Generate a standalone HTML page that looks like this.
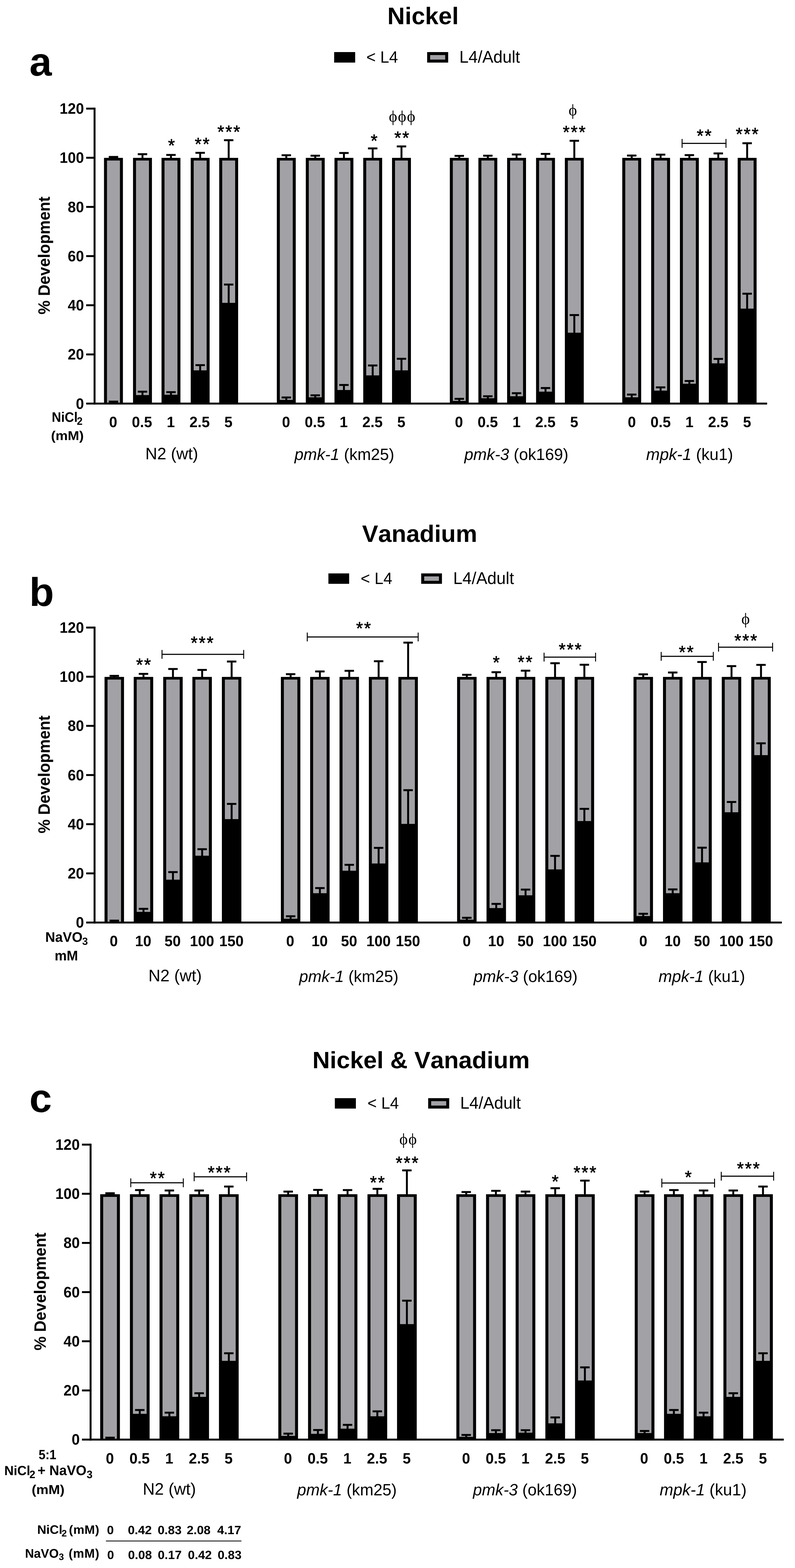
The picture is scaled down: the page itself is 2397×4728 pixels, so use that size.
<!DOCTYPE html>
<html lang="en"><head><meta charset="utf-8"><title>Development under nickel and vanadium exposure</title>
<style>html,body{margin:0;padding:0;background:#fff}svg{display:block}text{font-family:'Liberation Sans', Arial, Helvetica, sans-serif;fill:#000;font-kerning:none;white-space:pre}text.ph{font-family:'Liberation Serif', 'DejaVu Serif', serif}text.st{stroke:#000;stroke-width:1px}</style>
</head><body>
<svg width="2397" height="4728" viewBox="0 0 2397 4728" text-rendering="geometricPrecision">
<rect width="2397" height="4728" fill="#fff"/>
<g id="panel-a">
<text transform="translate(0 73.2) scale(1 0.994)" text-anchor="start"><tspan x="1168.12" y="0" font-size="72.92" font-weight="bold">Nickel</tspan></text>
<text transform="translate(88.7 228.3) scale(1 1)" font-size="121" font-weight="bold" text-anchor="start">a</text>
<rect x="1007.5" y="157" width="63.4" height="31.7"/>
<text transform="translate(0 188.5) scale(1 1.03)" text-anchor="start"><tspan x="1104.83" font-size="48.15">&lt; </tspan><tspan x="1146.45" font-size="48.15">L4</tspan></text>
<rect x="1287.9" y="157" width="63.4" height="31.7"/>
<rect x="1296.9" y="166" width="45.4" height="13.7" fill="#a2a1a5"/>
<text transform="translate(0 188.5) scale(1 1.03)" text-anchor="start"><tspan x="1384.91" y="0" font-size="49.89">L4/Adult</tspan></text>
<rect x="282.2" y="324.6" width="5.8" height="895.2"/>
<rect x="259.8" y="1214" width="2053.2" height="5.8"/>
<rect x="259.8" y="1065.8" width="25.3" height="5.8"/>
<rect x="259.8" y="917.5" width="25.3" height="5.8"/>
<rect x="259.8" y="769.3" width="25.3" height="5.8"/>
<rect x="259.8" y="621" width="25.3" height="5.8"/>
<rect x="259.8" y="472.8" width="25.3" height="5.8"/>
<rect x="259.8" y="324.6" width="25.3" height="5.8"/>
<text transform="translate(253.2 1232.5) scale(1 1.04)" font-size="44" font-weight="bold" text-anchor="end">0</text>
<text transform="translate(253.2 1084.3) scale(1 1.04)" font-size="44" font-weight="bold" text-anchor="end">20</text>
<text transform="translate(253.2 936) scale(1 1.04)" font-size="44" font-weight="bold" text-anchor="end">40</text>
<text transform="translate(253.2 787.8) scale(1 1.04)" font-size="44" font-weight="bold" text-anchor="end">60</text>
<text transform="translate(253.2 639.5) scale(1 1.04)" font-size="44" font-weight="bold" text-anchor="end">80</text>
<text transform="translate(253.2 491.3) scale(1 1.04)" font-size="44" font-weight="bold" text-anchor="end">100</text>
<text transform="translate(253.2 343.1) scale(1 1.04)" font-size="44" font-weight="bold" text-anchor="end">120</text>
<text transform="translate(150 770.4) rotate(-90) scale(1 1.04)" font-size="47.75" font-weight="bold" text-anchor="middle">% Development</text>
<rect x="313.6" y="476" width="57" height="740.9"/>
<rect x="322.6" y="484" width="39" height="730" fill="#a2a1a5"/>
<rect x="339.2" y="1211" width="5.8" height="4"/>
<rect x="327.9" y="1208.1" width="28.4" height="5.8"/>
<rect x="339.2" y="473.2" width="5.8" height="3.8"/>
<rect x="327.9" y="470.3" width="28.4" height="5.8"/>
<text transform="translate(341.3 1288.1) scale(1 1.03)" font-size="44" font-weight="bold" text-anchor="middle">0</text>
<rect x="401.1" y="476" width="57" height="740.9"/>
<rect x="410.1" y="484" width="39" height="707.3" fill="#a2a1a5"/>
<rect x="426.7" y="1181" width="5.8" height="11.3"/>
<rect x="415.4" y="1178.1" width="28.4" height="5.8"/>
<rect x="426.7" y="464.9" width="5.8" height="12.1"/>
<rect x="415.4" y="462" width="28.4" height="5.8"/>
<text transform="translate(428.2 1288.1) scale(1 1.03)" font-size="44" font-weight="bold" text-anchor="middle">0.5</text>
<rect x="487" y="476" width="57" height="740.9"/>
<rect x="496" y="484" width="39" height="706.2" fill="#a2a1a5"/>
<rect x="512.6" y="1182.4" width="5.8" height="8.8"/>
<rect x="501.3" y="1179.5" width="28.4" height="5.8"/>
<rect x="512.6" y="467.2" width="5.8" height="9.8"/>
<rect x="501.3" y="464.3" width="28.4" height="5.8"/>
<text transform="translate(515 1288.1) scale(1 1.03)" font-size="44" font-weight="bold" text-anchor="middle">1</text>
<rect x="575" y="476" width="57" height="740.9"/>
<rect x="584" y="484" width="39" height="632.7" fill="#a2a1a5"/>
<rect x="600.6" y="1101" width="5.8" height="16.7"/>
<rect x="589.3" y="1098.1" width="28.4" height="5.8"/>
<rect x="600.6" y="460.8" width="5.8" height="16.2"/>
<rect x="589.3" y="457.9" width="28.4" height="5.8"/>
<text transform="translate(601.9 1288.1) scale(1 1.03)" font-size="44" font-weight="bold" text-anchor="middle">2.5</text>
<rect x="661" y="476" width="57" height="740.9"/>
<rect x="670" y="484" width="39" height="429.2" fill="#a2a1a5"/>
<rect x="686.6" y="858" width="5.8" height="56.2"/>
<rect x="675.3" y="855.1" width="28.4" height="5.8"/>
<rect x="686.6" y="422.7" width="5.8" height="54.3"/>
<rect x="675.3" y="419.8" width="28.4" height="5.8"/>
<text transform="translate(688.8 1288.1) scale(1 1.03)" font-size="44" font-weight="bold" text-anchor="middle">5</text>
<text transform="translate(0 1385.3) scale(1 1.015)" text-anchor="start"><tspan x="438.25" y="0" font-size="49.41">N2 (wt)</tspan></text>
<rect x="834.7" y="476" width="57" height="740.9"/>
<rect x="843.7" y="484" width="39" height="721.8" fill="#a2a1a5"/>
<rect x="860.3" y="1198.5" width="5.8" height="8.3"/>
<rect x="849" y="1195.6" width="28.4" height="5.8"/>
<rect x="860.3" y="468.1" width="5.8" height="8.9"/>
<rect x="849" y="465.2" width="28.4" height="5.8"/>
<text transform="translate(862.5 1288.1) scale(1 1.03)" font-size="44" font-weight="bold" text-anchor="middle">0</text>
<rect x="922" y="476" width="57" height="740.9"/>
<rect x="931" y="484" width="39" height="714" fill="#a2a1a5"/>
<rect x="947.6" y="1192" width="5.8" height="7"/>
<rect x="936.3" y="1189.1" width="28.4" height="5.8"/>
<rect x="947.6" y="469.5" width="5.8" height="7.5"/>
<rect x="936.3" y="466.6" width="28.4" height="5.8"/>
<text transform="translate(949.4 1288.1) scale(1 1.03)" font-size="44" font-weight="bold" text-anchor="middle">0.5</text>
<rect x="1008.5" y="476" width="57" height="740.9"/>
<rect x="1017.5" y="484" width="39" height="692" fill="#a2a1a5"/>
<rect x="1034.1" y="1160.8" width="5.8" height="16.2"/>
<rect x="1022.8" y="1157.9" width="28.4" height="5.8"/>
<rect x="1034.1" y="461.3" width="5.8" height="15.7"/>
<rect x="1022.8" y="458.4" width="28.4" height="5.8"/>
<text transform="translate(1036.3 1288.1) scale(1 1.03)" font-size="44" font-weight="bold" text-anchor="middle">1</text>
<rect x="1095.2" y="476" width="57" height="740.9"/>
<rect x="1104.2" y="484" width="39" height="647.9" fill="#a2a1a5"/>
<rect x="1120.8" y="1102" width="5.8" height="30.9"/>
<rect x="1109.5" y="1099.1" width="28.4" height="5.8"/>
<rect x="1120.8" y="447.5" width="5.8" height="29.5"/>
<rect x="1109.5" y="444.6" width="28.4" height="5.8"/>
<text transform="translate(1123.1 1288.1) scale(1 1.03)" font-size="44" font-weight="bold" text-anchor="middle">2.5</text>
<rect x="1182" y="476" width="57" height="740.9"/>
<rect x="1191" y="484" width="39" height="632.7" fill="#a2a1a5"/>
<rect x="1207.6" y="1081.8" width="5.8" height="35.9"/>
<rect x="1196.3" y="1078.9" width="28.4" height="5.8"/>
<rect x="1207.6" y="441.5" width="5.8" height="35.5"/>
<rect x="1196.3" y="438.6" width="28.4" height="5.8"/>
<text transform="translate(1210 1288.1) scale(1 1.03)" font-size="44" font-weight="bold" text-anchor="middle">5</text>
<text transform="translate(0 1387.3) scale(1 1.015)" text-anchor="start"><tspan x="887.91" font-size="48.79" font-style="italic">pmk-1</tspan><tspan font-size="48.79"> (km25)</tspan></text>
<rect x="1356.3" y="476" width="57" height="740.9"/>
<rect x="1365.3" y="484" width="39" height="725" fill="#a2a1a5"/>
<rect x="1381.9" y="1202.6" width="5.8" height="7.4"/>
<rect x="1370.6" y="1199.7" width="28.4" height="5.8"/>
<rect x="1381.9" y="470" width="5.8" height="7"/>
<rect x="1370.6" y="467.1" width="28.4" height="5.8"/>
<text transform="translate(1383.7 1288.1) scale(1 1.03)" font-size="44" font-weight="bold" text-anchor="middle">0</text>
<rect x="1442.4" y="476" width="57" height="740.9"/>
<rect x="1451.4" y="484" width="39" height="716.8" fill="#a2a1a5"/>
<rect x="1468" y="1194.8" width="5.8" height="7"/>
<rect x="1456.7" y="1191.9" width="28.4" height="5.8"/>
<rect x="1468" y="469.5" width="5.8" height="7.5"/>
<rect x="1456.7" y="466.6" width="28.4" height="5.8"/>
<text transform="translate(1470.6 1288.1) scale(1 1.03)" font-size="44" font-weight="bold" text-anchor="middle">0.5</text>
<rect x="1529" y="476" width="57" height="740.9"/>
<rect x="1538" y="484" width="39" height="710.8" fill="#a2a1a5"/>
<rect x="1554.6" y="1185.6" width="5.8" height="10.2"/>
<rect x="1543.3" y="1182.7" width="28.4" height="5.8"/>
<rect x="1554.6" y="465.8" width="5.8" height="11.2"/>
<rect x="1543.3" y="462.9" width="28.4" height="5.8"/>
<text transform="translate(1557.5 1288.1) scale(1 1.03)" font-size="44" font-weight="bold" text-anchor="middle">1</text>
<rect x="1616.3" y="476" width="57" height="740.9"/>
<rect x="1625.3" y="484" width="39" height="697" fill="#a2a1a5"/>
<rect x="1641.9" y="1170" width="5.8" height="12"/>
<rect x="1630.6" y="1167.1" width="28.4" height="5.8"/>
<rect x="1641.9" y="464" width="5.8" height="13"/>
<rect x="1630.6" y="461.1" width="28.4" height="5.8"/>
<text transform="translate(1644.4 1288.1) scale(1 1.03)" font-size="44" font-weight="bold" text-anchor="middle">2.5</text>
<rect x="1703.1" y="476" width="57" height="740.9"/>
<rect x="1712.1" y="484" width="39" height="519.2" fill="#a2a1a5"/>
<rect x="1728.7" y="950" width="5.8" height="54.2"/>
<rect x="1717.4" y="947.1" width="28.4" height="5.8"/>
<rect x="1728.7" y="424.5" width="5.8" height="52.5"/>
<rect x="1717.4" y="421.6" width="28.4" height="5.8"/>
<text transform="translate(1731.2 1288.1) scale(1 1.03)" font-size="44" font-weight="bold" text-anchor="middle">5</text>
<text transform="translate(0 1387.3) scale(1 1.015)" text-anchor="start"><tspan x="1399.91" font-size="48.69" font-style="italic">pmk-3</tspan><tspan font-size="48.69"> (ok169)</tspan></text>
<rect x="1876.2" y="476" width="57" height="740.9"/>
<rect x="1885.2" y="484" width="39" height="714" fill="#a2a1a5"/>
<rect x="1901.8" y="1189.7" width="5.8" height="9.3"/>
<rect x="1890.5" y="1186.8" width="28.4" height="5.8"/>
<rect x="1901.8" y="469" width="5.8" height="8"/>
<rect x="1890.5" y="466.1" width="28.4" height="5.8"/>
<text transform="translate(1905 1288.1) scale(1 1.03)" font-size="44" font-weight="bold" text-anchor="middle">0</text>
<rect x="1963.3" y="476" width="57" height="740.9"/>
<rect x="1972.3" y="484" width="39" height="693.8" fill="#a2a1a5"/>
<rect x="1988.9" y="1168" width="5.8" height="10.8"/>
<rect x="1977.6" y="1165.1" width="28.4" height="5.8"/>
<rect x="1988.9" y="466.3" width="5.8" height="10.7"/>
<rect x="1977.6" y="463.4" width="28.4" height="5.8"/>
<text transform="translate(1991.8 1288.1) scale(1 1.03)" font-size="44" font-weight="bold" text-anchor="middle">0.5</text>
<rect x="2050" y="476" width="57" height="740.9"/>
<rect x="2059" y="484" width="39" height="673" fill="#a2a1a5"/>
<rect x="2075.6" y="1148.8" width="5.8" height="9.2"/>
<rect x="2064.3" y="1145.9" width="28.4" height="5.8"/>
<rect x="2075.6" y="467.7" width="5.8" height="9.3"/>
<rect x="2064.3" y="464.8" width="28.4" height="5.8"/>
<text transform="translate(2078.7 1288.1) scale(1 1.03)" font-size="44" font-weight="bold" text-anchor="middle">1</text>
<rect x="2137.2" y="476" width="57" height="740.9"/>
<rect x="2146.2" y="484" width="39" height="611.6" fill="#a2a1a5"/>
<rect x="2162.8" y="1082.2" width="5.8" height="14.4"/>
<rect x="2151.5" y="1079.3" width="28.4" height="5.8"/>
<rect x="2162.8" y="462.6" width="5.8" height="14.4"/>
<rect x="2151.5" y="459.7" width="28.4" height="5.8"/>
<text transform="translate(2165.6 1288.1) scale(1 1.03)" font-size="44" font-weight="bold" text-anchor="middle">2.5</text>
<rect x="2224.2" y="476" width="57" height="740.9"/>
<rect x="2233.2" y="484" width="39" height="446.6" fill="#a2a1a5"/>
<rect x="2249.8" y="885.6" width="5.8" height="46"/>
<rect x="2238.5" y="882.7" width="28.4" height="5.8"/>
<rect x="2249.8" y="431.9" width="5.8" height="45.1"/>
<rect x="2238.5" y="429" width="28.4" height="5.8"/>
<text transform="translate(2252.4 1288.1) scale(1 1.03)" font-size="44" font-weight="bold" text-anchor="middle">5</text>
<text transform="translate(0 1387.3) scale(1 1.015)" text-anchor="start"><tspan x="1948.28" font-size="49.13" font-style="italic">mpk-1</tspan><tspan font-size="49.13"> (ku1)</tspan></text>
<text transform="translate(506.7 456.9) scale(1 1.03)" font-size="52.6" text-anchor="start" class="st" letter-spacing="3.53">*</text>
<text transform="translate(587.2 453.3) scale(1 1.03)" font-size="52.6" text-anchor="start" class="st" letter-spacing="3.53">**</text>
<text transform="translate(655.4 415.6) scale(1 1.03)" font-size="52.6" text-anchor="start" class="st" letter-spacing="3.53">***</text>
<text transform="translate(1117.7 443.2) scale(1 1.03)" font-size="52.6" text-anchor="start" class="st" letter-spacing="3.53">*</text>
<text transform="translate(1188.9 434) scale(1 1.03)" font-size="52.6" text-anchor="start" class="st" letter-spacing="3.53">**</text>
<text transform="translate(1172.3 367.2) scale(1 1)" font-size="48.5" text-anchor="start" class="ph" letter-spacing="1.67">ϕϕϕ</text>
<text transform="translate(1697.1 416.5) scale(1 1.03)" font-size="52.6" text-anchor="start" class="st" letter-spacing="3.53">***</text>
<text transform="translate(1714.2 348.4) scale(1 1)" font-size="48.5" text-anchor="start" class="ph" letter-spacing="1.67">ϕ</text>
<rect x="2055.2" y="430.7" width="135.1" height="3.3"/>
<rect x="2055.2" y="419" width="2.8" height="26.6"/>
<rect x="2187.5" y="419" width="2.8" height="26.6"/>
<text transform="translate(2100.7 428) scale(1 1.03)" font-size="52.6" text-anchor="start" class="st" letter-spacing="3.53">**</text>
<text transform="translate(2218.4 422.5) scale(1 1.03)" font-size="52.6" text-anchor="start" class="st" letter-spacing="3.53">***</text>
<text transform="translate(0 1272.4) scale(1 1.065)" text-anchor="start"><tspan x="155.88" y="0" font-size="39.15" font-weight="bold">NiCl</tspan><tspan x="231.74" y="7.89" font-size="30.91" font-weight="bold">2</tspan></text>
<text transform="translate(0 1327) scale(1 0.938)" text-anchor="start"><tspan x="153.64" y="0" font-size="41.38" font-weight="bold">(mM)</tspan></text>
</g>
<g id="panel-b">
<text transform="translate(0 1634) scale(1 0.987)" text-anchor="start"><tspan x="1091.8" y="0" font-size="72.63" font-weight="bold">Vanadium</tspan></text>
<text transform="translate(88.3 1827.2) scale(1 0.99)" font-size="122" font-weight="bold" text-anchor="start">b</text>
<rect x="990.2" y="1729" width="62.5" height="31.4"/>
<text transform="translate(0 1760.6) scale(1 1.03)" text-anchor="start"><tspan x="1087.52" font-size="48.25">&lt; </tspan><tspan x="1129.24" font-size="48.25">L4</tspan></text>
<rect x="1270" y="1729" width="62.5" height="31.4"/>
<rect x="1279" y="1738" width="44.5" height="13.4" fill="#a2a1a5"/>
<text transform="translate(0 1760.6) scale(1 1.03)" text-anchor="start"><tspan x="1366.6" y="0" font-size="49.94">L4/Adult</tspan></text>
<rect x="282.2" y="1889.4" width="5.8" height="895.2"/>
<rect x="259.8" y="2778.8" width="2097.6" height="5.8"/>
<rect x="259.8" y="2630.6" width="25.3" height="5.8"/>
<rect x="259.8" y="2482.3" width="25.3" height="5.8"/>
<rect x="259.8" y="2334.1" width="25.3" height="5.8"/>
<rect x="259.8" y="2185.8" width="25.3" height="5.8"/>
<rect x="259.8" y="2037.6" width="25.3" height="5.8"/>
<rect x="259.8" y="1889.4" width="25.3" height="5.8"/>
<text transform="translate(253.2 2797.3) scale(1 1.04)" font-size="44" font-weight="bold" text-anchor="end">0</text>
<text transform="translate(253.2 2649.1) scale(1 1.04)" font-size="44" font-weight="bold" text-anchor="end">20</text>
<text transform="translate(253.2 2500.8) scale(1 1.04)" font-size="44" font-weight="bold" text-anchor="end">40</text>
<text transform="translate(253.2 2352.6) scale(1 1.04)" font-size="44" font-weight="bold" text-anchor="end">60</text>
<text transform="translate(253.2 2204.3) scale(1 1.04)" font-size="44" font-weight="bold" text-anchor="end">80</text>
<text transform="translate(253.2 2056.1) scale(1 1.04)" font-size="44" font-weight="bold" text-anchor="end">100</text>
<text transform="translate(253.2 1907.9) scale(1 1.04)" font-size="44" font-weight="bold" text-anchor="end">120</text>
<text transform="translate(150 2335.2) rotate(-90) scale(1 1.04)" font-size="47.75" font-weight="bold" text-anchor="middle">% Development</text>
<rect x="315.2" y="2041.1" width="58.7" height="740.6"/>
<rect x="324.2" y="2049.1" width="40.7" height="729.9" fill="#a2a1a5"/>
<rect x="341.7" y="2776" width="5.8" height="4"/>
<rect x="330.4" y="2773.1" width="28.4" height="5.8"/>
<rect x="341.7" y="2037.9" width="5.8" height="4.2"/>
<rect x="330.4" y="2035" width="28.4" height="5.8"/>
<text transform="translate(343 2853.1) scale(1 1.03)" font-size="44" font-weight="bold" text-anchor="middle">0</text>
<rect x="403.2" y="2041.1" width="58.7" height="740.6"/>
<rect x="412.2" y="2049.1" width="40.7" height="700.5" fill="#a2a1a5"/>
<rect x="429.7" y="2740.4" width="5.8" height="10.2"/>
<rect x="418.4" y="2737.5" width="28.4" height="5.8"/>
<rect x="429.7" y="2031.9" width="5.8" height="10.2"/>
<rect x="418.4" y="2029" width="28.4" height="5.8"/>
<text transform="translate(431.7 2853.1) scale(1 1.03)" font-size="44" font-weight="bold" text-anchor="middle">10</text>
<rect x="492.1" y="2041.1" width="58.7" height="740.6"/>
<rect x="501.1" y="2049.1" width="40.7" height="603.4" fill="#a2a1a5"/>
<rect x="518.6" y="2629.6" width="5.8" height="23.9"/>
<rect x="507.3" y="2626.7" width="28.4" height="5.8"/>
<rect x="518.6" y="2017.2" width="5.8" height="24.9"/>
<rect x="507.3" y="2014.3" width="28.4" height="5.8"/>
<text transform="translate(520.4 2853.1) scale(1 1.03)" font-size="44" font-weight="bold" text-anchor="middle">50</text>
<rect x="580.1" y="2041.1" width="58.7" height="740.6"/>
<rect x="589.1" y="2049.1" width="40.7" height="531.1" fill="#a2a1a5"/>
<rect x="606.6" y="2560.6" width="5.8" height="20.6"/>
<rect x="595.3" y="2557.7" width="28.4" height="5.8"/>
<rect x="606.6" y="2020" width="5.8" height="22.1"/>
<rect x="595.3" y="2017.1" width="28.4" height="5.8"/>
<text transform="translate(609.1 2853.1) scale(1 1.03)" font-size="44" font-weight="bold" text-anchor="middle">100</text>
<rect x="669" y="2041.1" width="58.7" height="740.6"/>
<rect x="678" y="2049.1" width="40.7" height="420.8" fill="#a2a1a5"/>
<rect x="695.5" y="2424" width="5.8" height="46.9"/>
<rect x="684.2" y="2421.1" width="28.4" height="5.8"/>
<rect x="695.5" y="1994.7" width="5.8" height="47.4"/>
<rect x="684.2" y="1991.8" width="28.4" height="5.8"/>
<text transform="translate(697.8 2853.1) scale(1 1.03)" font-size="44" font-weight="bold" text-anchor="middle">150</text>
<text transform="translate(0 2959.2) scale(1 1.015)" text-anchor="start"><tspan x="447.51" y="0" font-size="49.9">N2 (wt)</tspan></text>
<rect x="846.9" y="2041.1" width="58.7" height="740.6"/>
<rect x="855.9" y="2049.1" width="40.7" height="721.2" fill="#a2a1a5"/>
<rect x="873.4" y="2762.8" width="5.8" height="8.5"/>
<rect x="862.1" y="2759.9" width="28.4" height="5.8"/>
<rect x="873.4" y="2032.8" width="5.8" height="9.3"/>
<rect x="862.1" y="2029.9" width="28.4" height="5.8"/>
<text transform="translate(875.1 2853.1) scale(1 1.03)" font-size="44" font-weight="bold" text-anchor="middle">0</text>
<rect x="935.1" y="2041.1" width="58.7" height="740.6"/>
<rect x="944.1" y="2049.1" width="40.7" height="644.2" fill="#a2a1a5"/>
<rect x="961.6" y="2677.8" width="5.8" height="16.5"/>
<rect x="950.3" y="2674.9" width="28.4" height="5.8"/>
<rect x="961.6" y="2024.6" width="5.8" height="17.5"/>
<rect x="950.3" y="2021.7" width="28.4" height="5.8"/>
<text transform="translate(963.8 2853.1) scale(1 1.03)" font-size="44" font-weight="bold" text-anchor="middle">10</text>
<rect x="1023.7" y="2041.1" width="58.7" height="740.6"/>
<rect x="1032.8" y="2049.1" width="40.7" height="576.4" fill="#a2a1a5"/>
<rect x="1050.2" y="2607.7" width="5.8" height="18.8"/>
<rect x="1038.9" y="2604.8" width="28.4" height="5.8"/>
<rect x="1050.2" y="2022.7" width="5.8" height="19.4"/>
<rect x="1038.9" y="2019.8" width="28.4" height="5.8"/>
<text transform="translate(1052.5 2853.1) scale(1 1.03)" font-size="44" font-weight="bold" text-anchor="middle">50</text>
<rect x="1112.2" y="2041.1" width="58.7" height="740.6"/>
<rect x="1121.2" y="2049.1" width="40.7" height="554.6" fill="#a2a1a5"/>
<rect x="1138.7" y="2556.6" width="5.8" height="48.1"/>
<rect x="1127.4" y="2553.7" width="28.4" height="5.8"/>
<rect x="1138.7" y="1993.8" width="5.8" height="48.3"/>
<rect x="1127.4" y="1990.9" width="28.4" height="5.8"/>
<text transform="translate(1141.2 2853.1) scale(1 1.03)" font-size="44" font-weight="bold" text-anchor="middle">100</text>
<rect x="1201.2" y="2041.1" width="58.7" height="740.6"/>
<rect x="1210.2" y="2049.1" width="40.7" height="435.2" fill="#a2a1a5"/>
<rect x="1227.6" y="2382.6" width="5.8" height="102.7"/>
<rect x="1216.3" y="2379.7" width="28.4" height="5.8"/>
<rect x="1227.6" y="1937.7" width="5.8" height="104.4"/>
<rect x="1216.3" y="1934.8" width="28.4" height="5.8"/>
<text transform="translate(1229.9 2853.1) scale(1 1.03)" font-size="44" font-weight="bold" text-anchor="middle">150</text>
<text transform="translate(0 2961.2) scale(1 1.015)" text-anchor="start"><tspan x="902.01" font-size="48.56" font-style="italic">pmk-1</tspan><tspan font-size="48.56"> (km25)</tspan></text>
<rect x="1378.2" y="2041.1" width="58.7" height="740.6"/>
<rect x="1387.2" y="2049.1" width="40.7" height="724" fill="#a2a1a5"/>
<rect x="1404.6" y="2767.4" width="5.8" height="6.7"/>
<rect x="1393.3" y="2764.5" width="28.4" height="5.8"/>
<rect x="1404.6" y="2034.7" width="5.8" height="7.4"/>
<rect x="1393.3" y="2031.8" width="28.4" height="5.8"/>
<text transform="translate(1407.3 2853.1) scale(1 1.03)" font-size="44" font-weight="bold" text-anchor="middle">0</text>
<rect x="1466.9" y="2041.1" width="58.7" height="740.6"/>
<rect x="1475.9" y="2049.1" width="40.7" height="689" fill="#a2a1a5"/>
<rect x="1493.3" y="2725.5" width="5.8" height="13.6"/>
<rect x="1482" y="2722.6" width="28.4" height="5.8"/>
<rect x="1493.3" y="2026.9" width="5.8" height="15.2"/>
<rect x="1482" y="2024" width="28.4" height="5.8"/>
<text transform="translate(1496 2853.1) scale(1 1.03)" font-size="44" font-weight="bold" text-anchor="middle">10</text>
<rect x="1555.2" y="2041.1" width="58.7" height="740.6"/>
<rect x="1564.2" y="2049.1" width="40.7" height="650.5" fill="#a2a1a5"/>
<rect x="1581.7" y="2682.4" width="5.8" height="18.2"/>
<rect x="1570.4" y="2679.5" width="28.4" height="5.8"/>
<rect x="1581.7" y="2022.3" width="5.8" height="19.8"/>
<rect x="1570.4" y="2019.4" width="28.4" height="5.8"/>
<text transform="translate(1584.7 2853.1) scale(1 1.03)" font-size="44" font-weight="bold" text-anchor="middle">50</text>
<rect x="1644.2" y="2041.1" width="58.7" height="740.6"/>
<rect x="1653.2" y="2049.1" width="40.7" height="572.4" fill="#a2a1a5"/>
<rect x="1670.6" y="2580.7" width="5.8" height="41.8"/>
<rect x="1659.3" y="2577.8" width="28.4" height="5.8"/>
<rect x="1670.6" y="1999.8" width="5.8" height="42.3"/>
<rect x="1659.3" y="1996.9" width="28.4" height="5.8"/>
<text transform="translate(1673.3 2853.1) scale(1 1.03)" font-size="44" font-weight="bold" text-anchor="middle">100</text>
<rect x="1732.6" y="2041.1" width="58.7" height="740.6"/>
<rect x="1741.6" y="2049.1" width="40.7" height="426.6" fill="#a2a1a5"/>
<rect x="1759" y="2438.9" width="5.8" height="37.8"/>
<rect x="1747.7" y="2436" width="28.4" height="5.8"/>
<rect x="1759" y="2004.4" width="5.8" height="37.7"/>
<rect x="1747.7" y="2001.5" width="28.4" height="5.8"/>
<text transform="translate(1762 2853.1) scale(1 1.03)" font-size="44" font-weight="bold" text-anchor="middle">150</text>
<text transform="translate(0 2961.2) scale(1 1.015)" text-anchor="start"><tspan x="1427.91" font-size="48.65" font-style="italic">pmk-3</tspan><tspan font-size="48.65"> (ok169)</tspan></text>
<rect x="1910.1" y="2041.1" width="58.7" height="740.6"/>
<rect x="1919.1" y="2049.1" width="40.7" height="713.1" fill="#a2a1a5"/>
<rect x="1936.5" y="2755.3" width="5.8" height="7.9"/>
<rect x="1925.2" y="2752.4" width="28.4" height="5.8"/>
<rect x="1936.5" y="2033.3" width="5.8" height="8.8"/>
<rect x="1925.2" y="2030.4" width="28.4" height="5.8"/>
<text transform="translate(1939.4 2853.1) scale(1 1.03)" font-size="44" font-weight="bold" text-anchor="middle">0</text>
<rect x="1999" y="2041.1" width="58.7" height="740.6"/>
<rect x="2008" y="2049.1" width="40.7" height="644.2" fill="#a2a1a5"/>
<rect x="2025.4" y="2681.8" width="5.8" height="12.5"/>
<rect x="2014.1" y="2678.9" width="28.4" height="5.8"/>
<rect x="2025.4" y="2027.8" width="5.8" height="14.3"/>
<rect x="2014.1" y="2024.9" width="28.4" height="5.8"/>
<text transform="translate(2028.1 2853.1) scale(1 1.03)" font-size="44" font-weight="bold" text-anchor="middle">10</text>
<rect x="2087.3" y="2041.1" width="58.7" height="740.6"/>
<rect x="2096.3" y="2049.1" width="40.7" height="551.2" fill="#a2a1a5"/>
<rect x="2113.8" y="2556" width="5.8" height="45.3"/>
<rect x="2102.5" y="2553.1" width="28.4" height="5.8"/>
<rect x="2113.8" y="1996.1" width="5.8" height="46"/>
<rect x="2102.5" y="1993.2" width="28.4" height="5.8"/>
<text transform="translate(2116.8 2853.1) scale(1 1.03)" font-size="44" font-weight="bold" text-anchor="middle">50</text>
<rect x="2176.2" y="2041.1" width="58.7" height="740.6"/>
<rect x="2185.2" y="2049.1" width="40.7" height="400.1" fill="#a2a1a5"/>
<rect x="2202.7" y="2418.2" width="5.8" height="32"/>
<rect x="2191.4" y="2415.3" width="28.4" height="5.8"/>
<rect x="2202.7" y="2008.5" width="5.8" height="33.6"/>
<rect x="2191.4" y="2005.6" width="28.4" height="5.8"/>
<text transform="translate(2205.5 2853.1) scale(1 1.03)" font-size="44" font-weight="bold" text-anchor="middle">100</text>
<rect x="2265.2" y="2041.1" width="58.7" height="740.6"/>
<rect x="2274.2" y="2049.1" width="40.7" height="227.9" fill="#a2a1a5"/>
<rect x="2291.6" y="2241.3" width="5.8" height="36.7"/>
<rect x="2280.3" y="2238.4" width="28.4" height="5.8"/>
<rect x="2291.6" y="2004.8" width="5.8" height="37.3"/>
<rect x="2280.3" y="2001.9" width="28.4" height="5.8"/>
<text transform="translate(2294.2 2853.1) scale(1 1.03)" font-size="44" font-weight="bold" text-anchor="middle">150</text>
<text transform="translate(0 2961.2) scale(1 1.015)" text-anchor="start"><tspan x="1985.49" font-size="48.94" font-style="italic">mpk-1</tspan><tspan font-size="48.94"> (ku1)</tspan></text>
<text transform="translate(410.5 2023) scale(1 1.03)" font-size="52.6" text-anchor="start" class="st" letter-spacing="3.53">**</text>
<rect x="487.1" y="1971.4" width="249" height="3.3"/>
<rect x="487.1" y="1959.8" width="2.8" height="26.6"/>
<rect x="733.3" y="1959.8" width="2.8" height="26.6"/>
<text transform="translate(575.2 1957.3) scale(1 1.03)" font-size="52.6" text-anchor="start" class="st" letter-spacing="3.53">***</text>
<rect x="925" y="1919" width="337.2" height="3.3"/>
<rect x="925" y="1907.4" width="2.8" height="26.6"/>
<rect x="1259.4" y="1907.4" width="2.8" height="26.6"/>
<text transform="translate(1073.8 1912.8) scale(1 1.03)" font-size="52.6" text-anchor="start" class="st" letter-spacing="3.53">**</text>
<text transform="translate(1485.9 2016.1) scale(1 1.03)" font-size="52.6" text-anchor="start" class="st" letter-spacing="3.53">*</text>
<text transform="translate(1560.7 2015.2) scale(1 1.03)" font-size="52.6" text-anchor="start" class="st" letter-spacing="3.53">**</text>
<rect x="1639" y="1979.8" width="158.1" height="3.3"/>
<rect x="1639" y="1968.1" width="2.8" height="26.6"/>
<rect x="1794.3" y="1968.1" width="2.8" height="26.6"/>
<text transform="translate(1684.7 1977.1) scale(1 1.03)" font-size="52.6" text-anchor="start" class="st" letter-spacing="3.53">***</text>
<rect x="1992.2" y="1977.4" width="159.9" height="3.3"/>
<rect x="1992.2" y="1965.8" width="2.8" height="26.6"/>
<rect x="2149.3" y="1965.8" width="2.8" height="26.6"/>
<text transform="translate(2046.7 1985.4) scale(1 1.03)" font-size="52.6" text-anchor="start" class="st" letter-spacing="3.53">**</text>
<rect x="2165" y="1949.8" width="165.8" height="3.3"/>
<rect x="2165" y="1938.2" width="2.8" height="26.6"/>
<rect x="2328" y="1938.2" width="2.8" height="26.6"/>
<text transform="translate(2214.3 1950.4) scale(1 1.03)" font-size="52.6" text-anchor="start" class="st" letter-spacing="3.53">***</text>
<text transform="translate(2235.2 1882) scale(1 1)" font-size="48.5" text-anchor="start" class="ph" letter-spacing="1.67">ϕ</text>
<text transform="translate(0 2840) scale(1 1.02)" text-anchor="start"><tspan x="136.54" y="0" font-size="41.27" font-weight="bold">NaVO</tspan><tspan x="247.73" y="8.43" font-size="31.01" font-weight="bold">3</tspan></text>
<text transform="translate(0 2896.2) scale(1 1.029)" text-anchor="start"><tspan x="164.7" y="0" font-size="40.96" font-weight="bold">mM</tspan></text>
</g>
<g id="panel-c">
<text transform="translate(0 3221) scale(1 0.977)" text-anchor="start"><tspan x="941.93" y="0" font-size="72.79" font-weight="bold">Nickel &amp; Vanadium</tspan></text>
<text transform="translate(88.5 3353.4) scale(1 0.99)" font-size="122" font-weight="bold" text-anchor="start">c</text>
<rect x="1009.6" y="3311.3" width="63.4" height="31.4"/>
<text transform="translate(0 3342.8) scale(1 1.03)" text-anchor="start"><tspan x="1107.94" font-size="47.85">&lt; </tspan><tspan x="1149.47" font-size="47.85">L4</tspan></text>
<rect x="1291" y="3311.3" width="63.4" height="31.4"/>
<rect x="1300" y="3320.3" width="45.4" height="13.4" fill="#a2a1a5"/>
<text transform="translate(0 3342.8) scale(1 1.03)" text-anchor="start"><tspan x="1387.62" y="0" font-size="49.78">L4/Adult</tspan></text>
<rect x="270.2" y="3448.5" width="5.8" height="895.2"/>
<rect x="247.1" y="4337.9" width="2116" height="5.8"/>
<rect x="247.1" y="4189.7" width="26" height="5.8"/>
<rect x="247.1" y="4041.4" width="26" height="5.8"/>
<rect x="247.1" y="3893.2" width="26" height="5.8"/>
<rect x="247.1" y="3744.9" width="26" height="5.8"/>
<rect x="247.1" y="3596.7" width="26" height="5.8"/>
<rect x="247.1" y="3448.5" width="26" height="5.8"/>
<text transform="translate(240.5 4356.4) scale(1 1.04)" font-size="44" font-weight="bold" text-anchor="end">0</text>
<text transform="translate(240.5 4208.2) scale(1 1.04)" font-size="44" font-weight="bold" text-anchor="end">20</text>
<text transform="translate(240.5 4059.9) scale(1 1.04)" font-size="44" font-weight="bold" text-anchor="end">40</text>
<text transform="translate(240.5 3911.7) scale(1 1.04)" font-size="44" font-weight="bold" text-anchor="end">60</text>
<text transform="translate(240.5 3763.4) scale(1 1.04)" font-size="44" font-weight="bold" text-anchor="end">80</text>
<text transform="translate(240.5 3615.2) scale(1 1.04)" font-size="44" font-weight="bold" text-anchor="end">100</text>
<text transform="translate(240.5 3467) scale(1 1.04)" font-size="44" font-weight="bold" text-anchor="end">120</text>
<text transform="translate(138 3894.3) rotate(-90) scale(1 1.04)" font-size="47.75" font-weight="bold" text-anchor="middle">% Development</text>
<rect x="302.1" y="3601" width="59.4" height="739.8"/>
<rect x="311.1" y="3609" width="41.4" height="729" fill="#a2a1a5"/>
<rect x="328.9" y="4335" width="5.8" height="4"/>
<rect x="317.6" y="4332.1" width="28.4" height="5.8"/>
<rect x="328.9" y="3598" width="5.8" height="4"/>
<rect x="317.6" y="3595.1" width="28.4" height="5.8"/>
<text transform="translate(331.3 4412.8) scale(1 1.03)" font-size="44" font-weight="bold" text-anchor="middle">0</text>
<rect x="391.7" y="3601" width="59.4" height="739.8"/>
<rect x="400.7" y="3609" width="41.4" height="654.1" fill="#a2a1a5"/>
<rect x="418.5" y="4251.6" width="5.8" height="12.5"/>
<rect x="407.2" y="4248.7" width="28.4" height="5.8"/>
<rect x="418.5" y="3588.4" width="5.8" height="13.6"/>
<rect x="407.2" y="3585.5" width="28.4" height="5.8"/>
<text transform="translate(420.8 4412.8) scale(1 1.03)" font-size="44" font-weight="bold" text-anchor="middle">0.5</text>
<rect x="481" y="3601" width="59.4" height="739.8"/>
<rect x="490" y="3609" width="41.4" height="661.5" fill="#a2a1a5"/>
<rect x="507.8" y="4259.6" width="5.8" height="11.9"/>
<rect x="496.5" y="4256.7" width="28.4" height="5.8"/>
<rect x="507.8" y="3589.7" width="5.8" height="12.3"/>
<rect x="496.5" y="3586.8" width="28.4" height="5.8"/>
<text transform="translate(510.3 4412.8) scale(1 1.03)" font-size="44" font-weight="bold" text-anchor="middle">1</text>
<rect x="570.8" y="3601" width="59.4" height="739.8"/>
<rect x="579.8" y="3609" width="41.4" height="603" fill="#a2a1a5"/>
<rect x="597.6" y="4201" width="5.8" height="12"/>
<rect x="586.3" y="4198.1" width="28.4" height="5.8"/>
<rect x="597.6" y="3589.7" width="5.8" height="12.3"/>
<rect x="586.3" y="3586.8" width="28.4" height="5.8"/>
<text transform="translate(599.8 4412.8) scale(1 1.03)" font-size="44" font-weight="bold" text-anchor="middle">2.5</text>
<rect x="660.2" y="3601" width="59.4" height="739.8"/>
<rect x="669.2" y="3609" width="41.4" height="494.4" fill="#a2a1a5"/>
<rect x="687" y="4080.5" width="5.8" height="23.9"/>
<rect x="675.7" y="4077.6" width="28.4" height="5.8"/>
<rect x="687" y="3577.8" width="5.8" height="24.2"/>
<rect x="675.7" y="3574.9" width="28.4" height="5.8"/>
<text transform="translate(689.3 4412.8) scale(1 1.03)" font-size="44" font-weight="bold" text-anchor="middle">5</text>
<text transform="translate(0 4507.1) scale(1 1.015)" text-anchor="start"><tspan x="430.41" y="0" font-size="49.8">N2 (wt)</tspan></text>
<rect x="839.2" y="3601" width="59.4" height="739.8"/>
<rect x="848.2" y="3609" width="41.4" height="720.7" fill="#a2a1a5"/>
<rect x="866" y="4322.8" width="5.8" height="7.9"/>
<rect x="854.7" y="4319.9" width="28.4" height="5.8"/>
<rect x="866" y="3593" width="5.8" height="9"/>
<rect x="854.7" y="3590.1" width="28.4" height="5.8"/>
<text transform="translate(868.3 4412.8) scale(1 1.03)" font-size="44" font-weight="bold" text-anchor="middle">0</text>
<rect x="928.8" y="3601" width="59.4" height="739.8"/>
<rect x="937.8" y="3609" width="41.4" height="714.4" fill="#a2a1a5"/>
<rect x="955.6" y="4311.9" width="5.8" height="12.5"/>
<rect x="944.3" y="4309" width="28.4" height="5.8"/>
<rect x="955.6" y="3587.9" width="5.8" height="14.1"/>
<rect x="944.3" y="3585" width="28.4" height="5.8"/>
<text transform="translate(957.8 4412.8) scale(1 1.03)" font-size="44" font-weight="bold" text-anchor="middle">0.5</text>
<rect x="1018.2" y="3601" width="59.4" height="739.8"/>
<rect x="1027.2" y="3609" width="41.4" height="698.9" fill="#a2a1a5"/>
<rect x="1045" y="4296.4" width="5.8" height="12.5"/>
<rect x="1033.7" y="4293.5" width="28.4" height="5.8"/>
<rect x="1045" y="3588.4" width="5.8" height="13.6"/>
<rect x="1033.7" y="3585.5" width="28.4" height="5.8"/>
<text transform="translate(1047.3 4412.8) scale(1 1.03)" font-size="44" font-weight="bold" text-anchor="middle">1</text>
<rect x="1108" y="3601" width="59.4" height="739.8"/>
<rect x="1117" y="3609" width="41.4" height="661.5" fill="#a2a1a5"/>
<rect x="1134.8" y="4255.6" width="5.8" height="15.9"/>
<rect x="1123.5" y="4252.7" width="28.4" height="5.8"/>
<rect x="1134.8" y="3584.7" width="5.8" height="17.3"/>
<rect x="1123.5" y="3581.8" width="28.4" height="5.8"/>
<text transform="translate(1136.8 4412.8) scale(1 1.03)" font-size="44" font-weight="bold" text-anchor="middle">2.5</text>
<rect x="1197.1" y="3601" width="59.4" height="739.8"/>
<rect x="1206.1" y="3609" width="41.4" height="383.6" fill="#a2a1a5"/>
<rect x="1223.9" y="3921.9" width="5.8" height="71.7"/>
<rect x="1212.6" y="3919" width="28.4" height="5.8"/>
<rect x="1223.9" y="3529.1" width="5.8" height="72.9"/>
<rect x="1212.6" y="3526.2" width="28.4" height="5.8"/>
<text transform="translate(1226.3 4412.8) scale(1 1.03)" font-size="44" font-weight="bold" text-anchor="middle">5</text>
<text transform="translate(0 4508.9) scale(1 1.015)" text-anchor="start"><tspan x="896.11" font-size="48.68" font-style="italic">pmk-1</tspan><tspan font-size="48.68"> (km25)</tspan></text>
<rect x="1376" y="3601" width="59.4" height="739.8"/>
<rect x="1385" y="3609" width="41.4" height="723.6" fill="#a2a1a5"/>
<rect x="1402.8" y="4326.8" width="5.8" height="6.8"/>
<rect x="1391.5" y="4323.9" width="28.4" height="5.8"/>
<rect x="1402.8" y="3594.3" width="5.8" height="7.7"/>
<rect x="1391.5" y="3591.4" width="28.4" height="5.8"/>
<text transform="translate(1405.3 4412.8) scale(1 1.03)" font-size="44" font-weight="bold" text-anchor="middle">0</text>
<rect x="1465.5" y="3601" width="59.4" height="739.8"/>
<rect x="1474.5" y="3609" width="41.4" height="712.1" fill="#a2a1a5"/>
<rect x="1492.3" y="4312.5" width="5.8" height="9.6"/>
<rect x="1481" y="4309.6" width="28.4" height="5.8"/>
<rect x="1492.3" y="3590.7" width="5.8" height="11.3"/>
<rect x="1481" y="3587.8" width="28.4" height="5.8"/>
<text transform="translate(1494.8 4412.8) scale(1 1.03)" font-size="44" font-weight="bold" text-anchor="middle">0.5</text>
<rect x="1554.7" y="3601" width="59.4" height="739.8"/>
<rect x="1563.7" y="3609" width="41.4" height="710.9" fill="#a2a1a5"/>
<rect x="1581.5" y="4312.5" width="5.8" height="8.4"/>
<rect x="1570.2" y="4309.6" width="28.4" height="5.8"/>
<rect x="1581.5" y="3593" width="5.8" height="9"/>
<rect x="1570.2" y="3590.1" width="28.4" height="5.8"/>
<text transform="translate(1584.3 4412.8) scale(1 1.03)" font-size="44" font-weight="bold" text-anchor="middle">1</text>
<rect x="1644.3" y="3601" width="59.4" height="739.8"/>
<rect x="1653.3" y="3609" width="41.4" height="682.8" fill="#a2a1a5"/>
<rect x="1671.1" y="4274" width="5.8" height="18.8"/>
<rect x="1659.8" y="4271.1" width="28.4" height="5.8"/>
<rect x="1671.1" y="3582.8" width="5.8" height="19.2"/>
<rect x="1659.8" y="3579.9" width="28.4" height="5.8"/>
<text transform="translate(1673.8 4412.8) scale(1 1.03)" font-size="44" font-weight="bold" text-anchor="middle">2.5</text>
<rect x="1733.8" y="3601" width="59.4" height="739.8"/>
<rect x="1742.8" y="3609" width="41.4" height="553.6" fill="#a2a1a5"/>
<rect x="1760.6" y="4123" width="5.8" height="40.6"/>
<rect x="1749.3" y="4120.1" width="28.4" height="5.8"/>
<rect x="1760.6" y="3559.9" width="5.8" height="42.1"/>
<rect x="1749.3" y="3557" width="28.4" height="5.8"/>
<text transform="translate(1763.3 4412.8) scale(1 1.03)" font-size="44" font-weight="bold" text-anchor="middle">5</text>
<text transform="translate(0 4508.9) scale(1 1.015)" text-anchor="start"><tspan x="1426.01" font-size="48.66" font-style="italic">pmk-3</tspan><tspan font-size="48.66"> (ok169)</tspan></text>
<rect x="1913.8" y="3601" width="59.4" height="739.8"/>
<rect x="1922.8" y="3609" width="41.4" height="712.1" fill="#a2a1a5"/>
<rect x="1940.6" y="4314.8" width="5.8" height="7.3"/>
<rect x="1929.3" y="4311.9" width="28.4" height="5.8"/>
<rect x="1940.6" y="3593" width="5.8" height="9"/>
<rect x="1929.3" y="3590.1" width="28.4" height="5.8"/>
<text transform="translate(1942.3 4412.8) scale(1 1.03)" font-size="44" font-weight="bold" text-anchor="middle">0</text>
<rect x="2002.1" y="3601" width="59.4" height="739.8"/>
<rect x="2011.1" y="3609" width="41.4" height="654.1" fill="#a2a1a5"/>
<rect x="2028.9" y="4251.6" width="5.8" height="12.5"/>
<rect x="2017.6" y="4248.7" width="28.4" height="5.8"/>
<rect x="2028.9" y="3588.4" width="5.8" height="13.6"/>
<rect x="2017.6" y="3585.5" width="28.4" height="5.8"/>
<text transform="translate(2031.8 4412.8) scale(1 1.03)" font-size="44" font-weight="bold" text-anchor="middle">0.5</text>
<rect x="2091.6" y="3601" width="59.4" height="739.8"/>
<rect x="2100.6" y="3609" width="41.4" height="661.5" fill="#a2a1a5"/>
<rect x="2118.4" y="4259.6" width="5.8" height="11.9"/>
<rect x="2107.1" y="4256.7" width="28.4" height="5.8"/>
<rect x="2118.4" y="3589.7" width="5.8" height="12.3"/>
<rect x="2107.1" y="3586.8" width="28.4" height="5.8"/>
<text transform="translate(2121.3 4412.8) scale(1 1.03)" font-size="44" font-weight="bold" text-anchor="middle">1</text>
<rect x="2181.2" y="3601" width="59.4" height="739.8"/>
<rect x="2190.2" y="3609" width="41.4" height="603" fill="#a2a1a5"/>
<rect x="2208" y="4201" width="5.8" height="12"/>
<rect x="2196.7" y="4198.1" width="28.4" height="5.8"/>
<rect x="2208" y="3589.7" width="5.8" height="12.3"/>
<rect x="2196.7" y="3586.8" width="28.4" height="5.8"/>
<text transform="translate(2210.8 4412.8) scale(1 1.03)" font-size="44" font-weight="bold" text-anchor="middle">2.5</text>
<rect x="2270.8" y="3601" width="59.4" height="739.8"/>
<rect x="2279.8" y="3609" width="41.4" height="494.4" fill="#a2a1a5"/>
<rect x="2297.6" y="4080.5" width="5.8" height="23.9"/>
<rect x="2286.3" y="4077.6" width="28.4" height="5.8"/>
<rect x="2297.6" y="3577.8" width="5.8" height="24.2"/>
<rect x="2286.3" y="3574.9" width="28.4" height="5.8"/>
<text transform="translate(2300.3 4412.8) scale(1 1.03)" font-size="44" font-weight="bold" text-anchor="middle">5</text>
<text transform="translate(0 4508.9) scale(1 1.015)" text-anchor="start"><tspan x="1988.98" font-size="49.13" font-style="italic">mpk-1</tspan><tspan font-size="49.13"> (ku1)</tspan></text>
<rect x="392.9" y="3564.8" width="161.2" height="3.3"/>
<rect x="392.9" y="3553.2" width="2.8" height="26.6"/>
<rect x="551.3" y="3553.2" width="2.8" height="26.6"/>
<text transform="translate(451.9 3570.7) scale(1 1.03)" font-size="52.6" text-anchor="start" class="st" letter-spacing="3.53">**</text>
<rect x="584" y="3546.8" width="160.8" height="3.3"/>
<rect x="584" y="3535.1" width="2.8" height="26.6"/>
<rect x="742" y="3535.1" width="2.8" height="26.6"/>
<text transform="translate(626.4 3553.7) scale(1 1.03)" font-size="52.6" text-anchor="start" class="st" letter-spacing="3.53">***</text>
<text transform="translate(1115.4 3583.6) scale(1 1.03)" font-size="52.6" text-anchor="start" class="st" letter-spacing="3.53">**</text>
<text transform="translate(1193 3524.8) scale(1 1.03)" font-size="52.6" text-anchor="start" class="st" letter-spacing="3.53">***</text>
<text transform="translate(1204.1 3451.2) scale(1 1)" font-size="48.5" text-anchor="start" class="ph" letter-spacing="1.67">ϕϕ</text>
<text transform="translate(1663.7 3580.8) scale(1 1.03)" font-size="52.6" text-anchor="start" class="st" letter-spacing="3.53">*</text>
<text transform="translate(1729.2 3553.7) scale(1 1.03)" font-size="52.6" text-anchor="start" class="st" letter-spacing="3.53">***</text>
<rect x="1994.1" y="3565.5" width="161.7" height="3.3"/>
<rect x="1994.1" y="3553.9" width="2.8" height="26.6"/>
<rect x="2153" y="3553.9" width="2.8" height="26.6"/>
<text transform="translate(2065.1 3568) scale(1 1.03)" font-size="52.6" text-anchor="start" class="st" letter-spacing="3.53">*</text>
<rect x="2173.3" y="3544.9" width="160.7" height="3.3"/>
<rect x="2173.3" y="3533.3" width="2.8" height="26.6"/>
<rect x="2331.2" y="3533.3" width="2.8" height="26.6"/>
<text transform="translate(2222.1 3541.8) scale(1 1.03)" font-size="52.6" text-anchor="start" class="st" letter-spacing="3.53">***</text>
<text transform="translate(0 4399.5) scale(1 1.102)" text-anchor="start"><tspan x="116.46" y="0" font-size="36.92" font-weight="bold">5:1</tspan></text>
<text transform="translate(0 4448.4) scale(1 1.027)" text-anchor="start"><tspan x="12.99" y="0" font-size="39.09" font-weight="bold">NiCl</tspan><tspan x="88.72" y="8.57" font-size="31.9" font-weight="bold">2 </tspan><tspan x="113.17" y="0" font-size="41.08" font-weight="bold">+ </tspan><tspan x="148.85" y="0" font-size="41.12" font-weight="bold">NaVO</tspan><tspan x="261.29" y="8.37" font-size="31.9" font-weight="bold">3</tspan></text>
<text transform="translate(0 4505.2) scale(1 0.943)" text-anchor="start"><tspan x="95.53" y="0" font-size="41.47" font-weight="bold">(mM)</tspan></text>
</g>
<g id="table">
<text transform="translate(0 4624.8) scale(1 0.978)" text-anchor="start"><tspan x="112.16" y="0" font-size="37.96" font-weight="bold">NiCl</tspan><tspan x="185.44" y="7.98" font-size="28.89" font-weight="bold">2 </tspan><tspan x="207.83" y="0" font-size="37.5" font-weight="bold" letter-spacing="0.59">(mM)</tspan></text>
<text transform="translate(0 4696.5) scale(1 1.017)" text-anchor="start"><tspan x="75.4" y="0" font-size="37.33" font-weight="bold">NaVO</tspan><tspan x="177.31" y="7.57" font-size="27.79" font-weight="bold">3 </tspan><tspan x="207.03" y="0" font-size="37.5" font-weight="bold" letter-spacing="0.86">(mM)</tspan></text>
<text transform="translate(332.8 4626.2) scale(1 0.98)" font-size="37" font-weight="bold" text-anchor="middle">0</text>
<text transform="translate(421.5 4626.2) scale(1 0.98)" font-size="37" font-weight="bold" text-anchor="middle">0.42</text>
<text transform="translate(511.5 4626.2) scale(1 0.98)" font-size="37" font-weight="bold" text-anchor="middle">0.83</text>
<text transform="translate(598.9 4626.2) scale(1 0.98)" font-size="37" font-weight="bold" text-anchor="middle">2.08</text>
<text transform="translate(691 4626.2) scale(1 0.98)" font-size="37" font-weight="bold" text-anchor="middle">4.17</text>
<text transform="translate(333.5 4700.9) scale(1 0.98)" font-size="37" font-weight="bold" text-anchor="middle">0</text>
<text transform="translate(422 4700.9) scale(1 0.98)" font-size="37" font-weight="bold" text-anchor="middle">0.08</text>
<text transform="translate(511.7 4700.9) scale(1 0.98)" font-size="37" font-weight="bold" text-anchor="middle">0.17</text>
<text transform="translate(602.6 4700.9) scale(1 0.98)" font-size="37" font-weight="bold" text-anchor="middle">0.42</text>
<text transform="translate(692.2 4700.9) scale(1 0.98)" font-size="37" font-weight="bold" text-anchor="middle">0.83</text>
<rect x="319.4" y="4645.4" width="408.6" height="2.4"/>
</g>
</svg></body></html>
